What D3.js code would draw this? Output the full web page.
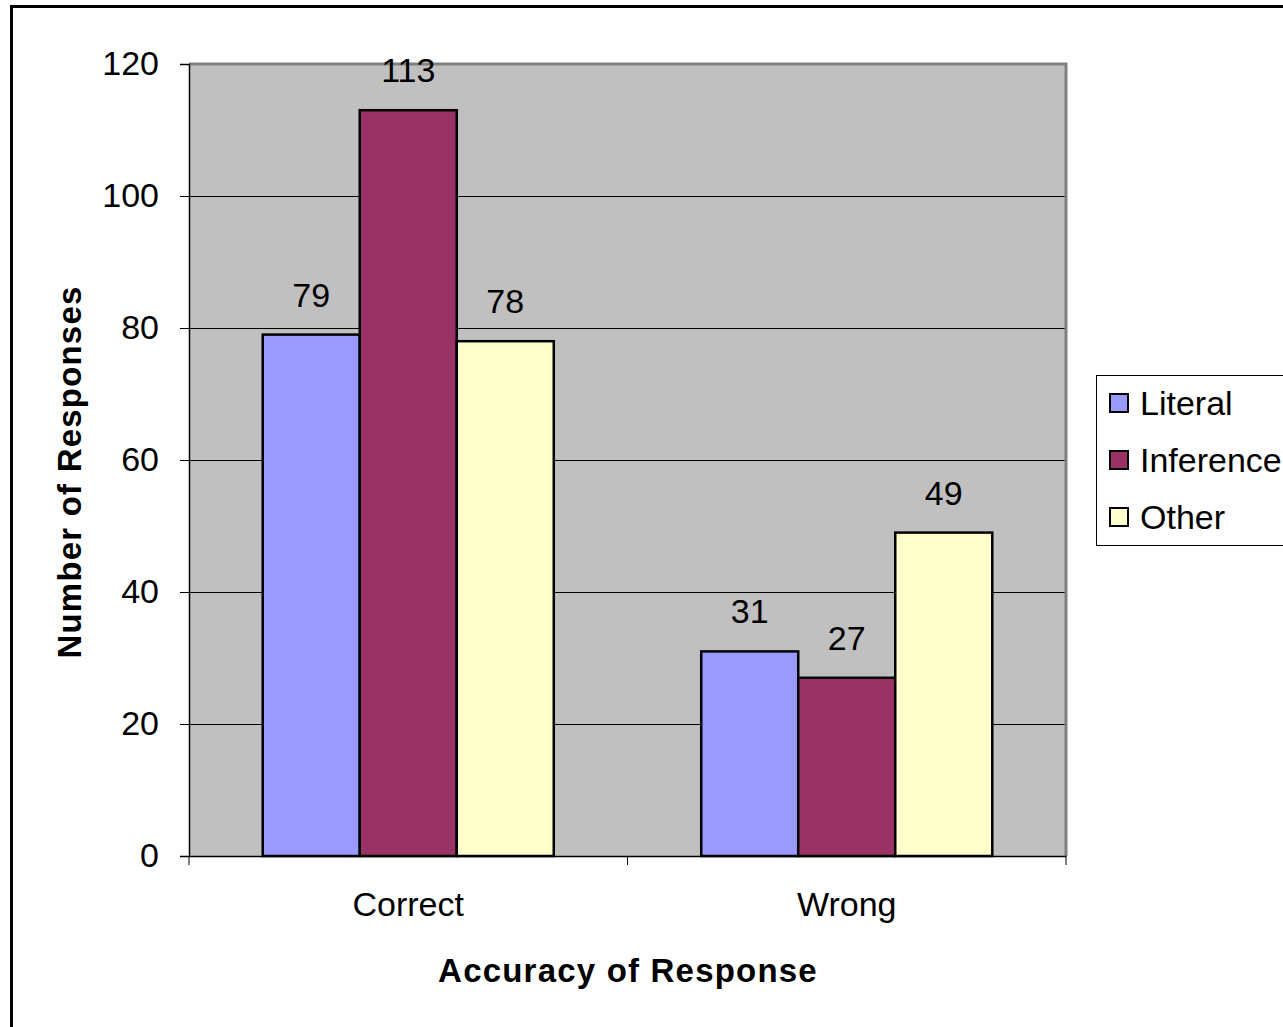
<!DOCTYPE html>
<html>
<head>
<meta charset="utf-8">
<script src="https://cdn.jsdelivr.net/npm/d3@7"></script>
<style>
  html, body { margin: 0; padding: 0; background: #fff; }
  svg { display: block; font-family: "Liberation Sans", Arial, sans-serif; }
</style>
</head>
<body>
<svg id="chart" width="1283" height="1027"></svg>
<script>
// Chart data
const categories = ["Correct", "Wrong"];
const seriesNames = ["Literal", "Inference", "Other"];
const literalValues = [79, 31];
const inferenceValues = [113, 27];
const otherValues = [78, 49];
const yTicks = [0, 20, 40, 60, 80, 100, 120];
const seriesColors = ["#9999FF", "#993366", "#FFFFCC"];

const seriesValues = [literalValues, inferenceValues, otherValues];
const FONT = "Liberation Sans, Arial, sans-serif";

const svg = d3.select("#chart");

// Outer chart frame
svg.append("path")
  .attr("d", "M11.5,1027 V6.5 H1290")
  .attr("fill", "none").attr("stroke", "#000").attr("stroke-width", 3);

const plot = { left: 189, top: 64, right: 1066, bottom: 856 };

const x0 = d3.scaleBand().domain(categories).range([plot.left, plot.right]).paddingInner(0).paddingOuter(0);
const x1 = d3.scaleBand().domain(seriesNames).range([0, x0.bandwidth()]).paddingInner(0).paddingOuter(0.76);
const y = d3.scaleLinear().domain([0, 120]).range([plot.bottom, plot.top]);

// Plot background
svg.append("rect")
  .attr("x", plot.left).attr("y", plot.top)
  .attr("width", plot.right - plot.left).attr("height", plot.bottom - plot.top)
  .attr("fill", "#C0C0C0");

// Gridlines
svg.append("g").selectAll("line").data(yTicks.filter(t => t > 0 && t < 120)).join("line")
  .attr("x1", plot.left).attr("x2", plot.right)
  .attr("y1", d => Math.round(y(d)) + 0.5).attr("y2", d => Math.round(y(d)) + 0.5)
  .attr("stroke", "#000").attr("stroke-width", 1);

// Plot border (gray, top and right)
svg.append("path")
  .attr("d", `M${plot.left},${plot.top} H${plot.right} V${plot.bottom}`)
  .attr("fill", "none").attr("stroke", "#808080").attr("stroke-width", 3);

// Bars
const groups = svg.append("g").selectAll("g").data(categories).join("g")
  .attr("transform", d => `translate(${x0(d)},0)`);

groups.each(function(cat, ci) {
  const g = d3.select(this);
  seriesNames.forEach((s, si) => {
    const v = seriesValues[si][ci];
    g.append("rect")
      .attr("x", x1(s)).attr("y", y(v))
      .attr("width", x1.bandwidth()).attr("height", y(0) - y(v))
      .attr("fill", seriesColors[si])
      .attr("stroke", "#000").attr("stroke-width", 2.5);
    g.append("text")
      .attr("x", x1(s) + x1.bandwidth() / 2)
      .attr("y", y(v) - 28)
      .attr("text-anchor", "middle")
      .attr("font-size", 34)
      .attr("fill", "#000")
      .text(v);
  });
});

// Y axis
const yAxis = svg.append("g")
  .attr("transform", `translate(${plot.left},0)`)
  .call(d3.axisLeft(y).tickValues(yTicks).tickSize(9).tickPadding(21));
yAxis.select(".domain").attr("stroke", "#000").attr("stroke-width", 1.5);
yAxis.selectAll(".tick line").attr("stroke", "#000");
yAxis.selectAll(".tick text").attr("font-size", 34).attr("font-family", FONT).attr("fill", "#000");

// X axis
const xAxis = svg.append("g")
  .attr("transform", `translate(0,${plot.bottom})`)
  .call(d3.axisBottom(x0).tickSize(0).tickPadding(36));
xAxis.select(".domain").attr("stroke", "#000").attr("stroke-width", 1.5);
xAxis.selectAll(".tick text").attr("font-size", 34).attr("font-family", FONT).attr("fill", "#000");
// Category separators below the axis
const sepX = [plot.left, x0("Wrong"), plot.right];
svg.append("g").selectAll("line").data(sepX).join("line")
  .attr("x1", d => d).attr("x2", d => d)
  .attr("y1", plot.bottom).attr("y2", plot.bottom + 9)
  .attr("stroke", "#000").attr("stroke-width", 1);

// Axis titles
svg.append("text")
  .attr("transform", "translate(81,472) rotate(-90)")
  .attr("text-anchor", "middle")
  .attr("font-size", 33).attr("font-weight", "bold")
  .attr("letter-spacing", 1.2)
  .text("Number of Responses");

svg.append("text")
  .attr("x", 628).attr("y", 982)
  .attr("text-anchor", "middle")
  .attr("font-size", 33).attr("font-weight", "bold")
  .attr("letter-spacing", 1.2)
  .text("Accuracy of Response");

// Legend
const legend = svg.append("g");
legend.append("rect")
  .attr("x", 1096.5).attr("y", 375.5).attr("width", 200).attr("height", 170)
  .attr("fill", "#fff").attr("stroke", "#000").attr("stroke-width", 1);
const legendRows = [403, 460, 517];
seriesNames.forEach((s, i) => {
  legend.append("rect")
    .attr("x", 1110).attr("y", legendRows[i] - 9).attr("width", 18).attr("height", 18)
    .attr("fill", seriesColors[i]).attr("stroke", "#000").attr("stroke-width", 2);
  legend.append("text")
    .attr("x", 1140).attr("y", legendRows[i] + 12)
    .attr("font-size", 34)
    .text(s);
});
</script>
</body>
</html>
